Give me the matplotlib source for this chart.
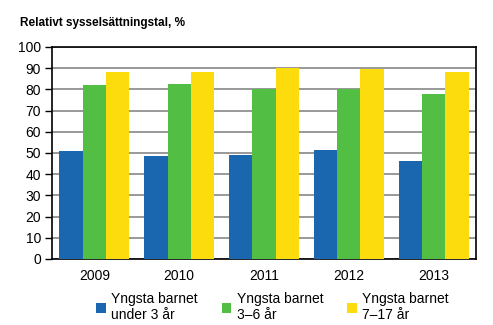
import numpy as np
import matplotlib.pyplot as plt

plt.rcParams['font.family'] = ['Liberation Sans', 'DejaVu Sans']

years = ['2009', '2010', '2011', '2012', '2013']
under3 = [51.0, 48.7, 49.1, 51.4, 46.3]
age3_6 = [82.1, 82.6, 80.2, 80.2, 77.9]
age7_17 = [88.4, 88.4, 90.1, 89.7, 88.3]
labels = ['Yngsta barnet\nunder 3 år', 'Yngsta barnet\n3–6 år', 'Yngsta barnet\n7–17 år']
colors = ['#1a67b0', '#52bf44', '#fddc0e']

fig = plt.figure(figsize=(4.93, 3.25), dpi=100)
ax = fig.add_axes([52/493, 1-259/325, 424/493, 212/325])

x = np.arange(len(years))
w = 0.275
for i, (vals, lab, c) in enumerate(zip([under3, age3_6, age7_17], labels, colors)):
    ax.bar(x + (i-1)*w, vals, w, color=c, label=lab, zorder=3)

ax.set_xlim(-0.5, len(years)-0.5)
ax.set_ylim(0, 100)
ax.set_yticks(range(0, 101, 10))
ax.set_xticks(x)
ax.set_xticklabels(years)
ax.yaxis.grid(True, color='#888888', linewidth=1.2, zorder=0)
for s in ax.spines.values():
    s.set_color('black')
    s.set_linewidth(1.2)
ax.tick_params(axis='y', length=5, width=1, labelsize=10, pad=3)
ax.tick_params(axis='x', length=0, labelsize=10, pad=7)

fig.text(20/493, 1-23/325, 'Relativt sysselsättningstal, %', fontsize=8.5,
         fontweight='bold', va='center', ha='left')

fig.legend(loc='upper left', bbox_to_anchor=(96/493, 1-292/325), ncol=3,
           frameon=False, fontsize=10, handlelength=0.7, handleheight=0.7,
           handletextpad=0.4, columnspacing=1.7, borderaxespad=0,
           borderpad=0, labelspacing=0)

fig.savefig('out.png', dpi=100)
